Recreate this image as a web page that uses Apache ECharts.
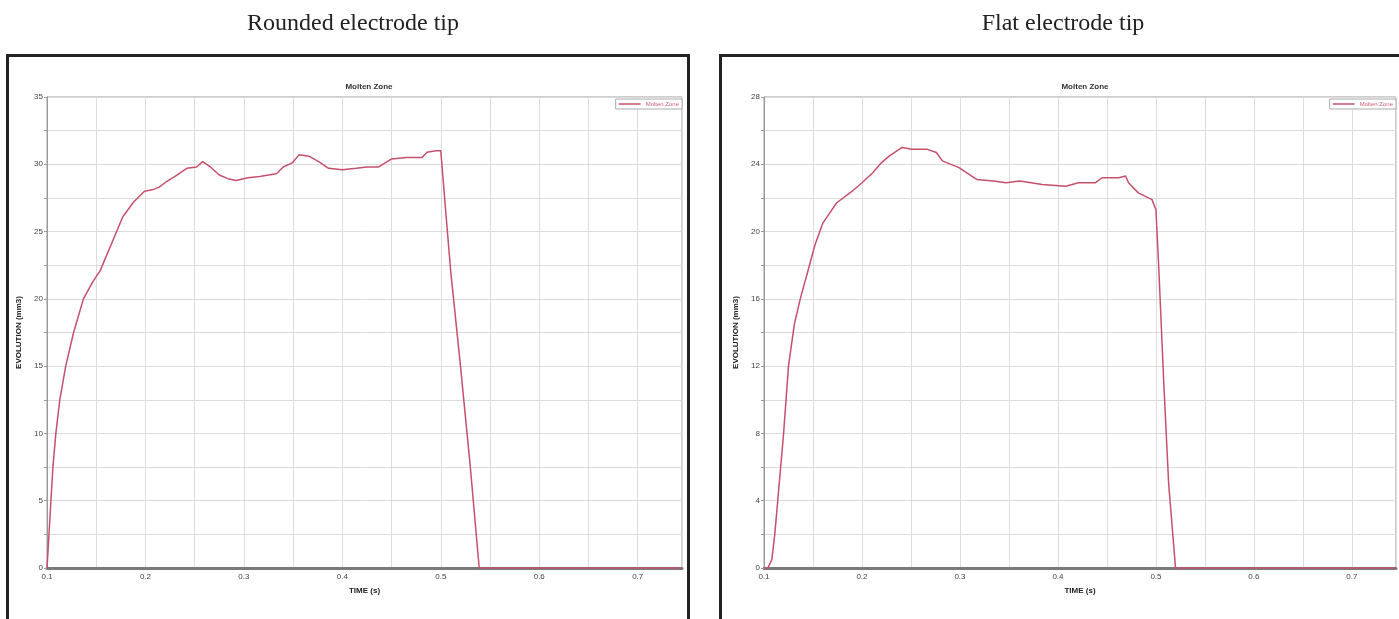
<!DOCTYPE html>
<html>
<head>
<meta charset="utf-8">
<script src="https://cdn.jsdelivr.net/npm/echarts@6/dist/echarts.min.js"></script>
<style>
  html, body { margin: 0; padding: 0; background: #fff; }
  #main { width: 1399px; height: 619px; }
</style>
</head>
<body>
<div id="main"></div>
<script>
// rounded electrode tip - molten zone evolution (mm3) vs time (s)
var roundedTime = [0.1, 0.102, 0.104, 0.106, 0.109, 0.113, 0.119, 0.127, 0.137, 0.146, 0.154, 0.165, 0.177, 0.188, 0.199, 0.207, 0.214, 0.221, 0.23, 0.242, 0.252, 0.258, 0.266, 0.275, 0.285, 0.292, 0.304, 0.316, 0.325, 0.333, 0.34, 0.349, 0.356, 0.366, 0.376, 0.386, 0.4, 0.414, 0.425, 0.437, 0.45, 0.465, 0.481, 0.486, 0.495, 0.5, 0.505, 0.51, 0.52, 0.53, 0.539, 0.6, 0.7, 0.745];
var roundedValues = [0, 2.5, 5, 7.5, 10, 12.5, 15, 17.5, 20, 21.2, 22.1, 24, 26.1, 27.2, 28, 28.1, 28.3, 28.7, 29.1, 29.7, 29.8, 30.2, 29.8, 29.2, 28.9, 28.8, 29, 29.1, 29.2, 29.3, 29.8, 30.1, 30.7, 30.6, 30.2, 29.7, 29.6, 29.7, 29.8, 29.8, 30.4, 30.5, 30.5, 30.9, 31, 31, 26.5, 22.1, 15, 7.5, 0, 0, 0, 0];

// flat electrode tip
var flatTime = [0.1, 0.104, 0.108, 0.111, 0.114, 0.117, 0.12, 0.125, 0.131, 0.137, 0.145, 0.152, 0.16, 0.167, 0.174, 0.19, 0.2, 0.211, 0.22, 0.228, 0.241, 0.251, 0.266, 0.276, 0.282, 0.299, 0.317, 0.334, 0.347, 0.361, 0.384, 0.408, 0.421, 0.438, 0.445, 0.462, 0.469, 0.472, 0.482, 0.496, 0.5, 0.503, 0.508, 0.513, 0.52, 0.6, 0.7, 0.745];
var flatValues = [0, 0, 0.5, 2, 4, 6, 8, 12, 14.5, 16, 17.7, 19.2, 20.5, 21.1, 21.7, 22.4, 22.9, 23.5, 24.1, 24.5, 25, 24.9, 24.9, 24.7, 24.2, 23.8, 23.1, 23, 22.9, 23, 22.8, 22.7, 22.9, 22.9, 23.2, 23.2, 23.3, 22.9, 22.3, 21.9, 21.3, 17.7, 11, 5, 0, 0, 0, 0];

var xTicks = [0.1, 0.2, 0.3, 0.4, 0.5, 0.6, 0.7];

function pairs(xs, ys) {
    var out = [];
    for (var i = 0; i < xs.length; i++) out.push([xs[i], ys[i]]);
    return out;
}

var lineColor = '#c6506b';
var sans = '"Liberation Sans", Arial, sans-serif';
var serif = '"Liberation Serif", "DejaVu Serif", serif';

function xFormatter(v) {
    var k = Math.round(v * 100);
    if (k % 10 !== 0) return '';
    return xTicks.indexOf(k / 100) >= 0 ? (k / 100).toFixed(1) : '';
}

function makeX(gridIndex) {
    return {
        type: 'value', gridIndex: gridIndex,
        min: 0.1, max: 0.745, interval: 0.05,
        name: 'TIME (s)', nameLocation: 'middle', nameGap: 19,
        nameTextStyle: { fontFamily: sans, fontSize: 8, fontWeight: 'bold', color: '#222' },
        axisLine: { show: true, lineStyle: { color: '#7a7a7a', width: 3 } },
        axisTick: { show: false },
        axisLabel: { formatter: xFormatter, fontFamily: sans, fontSize: 8, color: '#444', margin: 5, showMaxLabel: false },
        splitLine: { show: true, lineStyle: { color: '#dcdcdc', width: 1 } }
    };
}

function makeY(gridIndex, max, step) {
    return {
        type: 'value', gridIndex: gridIndex,
        min: 0, max: max, interval: step / 2,
        name: 'EVOLUTION (mm3)', nameLocation: 'middle', nameGap: 24,
        nameTextStyle: { fontFamily: sans, fontSize: 8, fontWeight: 'bold', color: '#222' },
        axisLine: { show: true, lineStyle: { color: '#9a9a9a', width: 1 } },
        axisTick: { show: true, length: 3, lineStyle: { color: '#9a9a9a' } },
        axisLabel: {
            fontFamily: sans, fontSize: 8, color: '#444', margin: 4,
            formatter: function (v) { return v % step === 0 ? String(v) : ''; }
        },
        splitLine: { show: true, lineStyle: { color: '#dcdcdc', width: 1 } }
    };
}

function makeLegend(right) {
    return {
        right: right, top: 99, orient: 'horizontal',
        data: ['Molten Zone'],
        icon: 'rect', itemWidth: 22, itemHeight: 1.5, itemGap: 2,
        padding: [2, 3], borderColor: '#aaa', borderWidth: 1, backgroundColor: '#fff',
        textStyle: { fontFamily: sans, fontSize: 6, color: '#d0607c' }
    };
}

var dom = document.getElementById('main');
var myChart = echarts.init(dom);

var option = {
    animation: false,
    backgroundColor: '#fff',
    title: [
        { text: 'Rounded electrode tip', left: 348, top: 7, textAlign: 'center',
          textStyle: { fontFamily: serif, fontSize: 24, fontWeight: 'normal', color: '#222' } },
        { text: 'Flat electrode tip', left: 1058, top: 7, textAlign: 'center',
          textStyle: { fontFamily: serif, fontSize: 24, fontWeight: 'normal', color: '#222' } },
        { text: 'Molten Zone', left: 364, top: 78, textAlign: 'center',
          textStyle: { fontFamily: sans, fontSize: 8, fontWeight: 'bold', color: '#333' } },
        { text: 'Molten Zone', left: 1080, top: 78, textAlign: 'center',
          textStyle: { fontFamily: sans, fontSize: 8, fontWeight: 'bold', color: '#333' } }
    ],
    legend: [makeLegend(717), makeLegend(3)],
    grid: [
        { left: 47, top: 97, width: 635, height: 471, show: true, borderColor: '#9a9a9a', borderWidth: 1 },
        { left: 764, top: 97, width: 632, height: 471, show: true, borderColor: '#9a9a9a', borderWidth: 1 }
    ],
    xAxis: [makeX(0), makeX(1)],
    yAxis: [makeY(0, 35, 5), makeY(1, 28, 4)],
    series: [
        {
            name: 'Molten Zone', type: 'line', xAxisIndex: 0, yAxisIndex: 0,
            data: pairs(roundedTime, roundedValues),
            showSymbol: false, smooth: false,
            lineStyle: { color: lineColor, width: 1.5 }, itemStyle: { color: lineColor }
        },
        {
            name: 'Molten Zone', type: 'line', xAxisIndex: 1, yAxisIndex: 1,
            data: pairs(flatTime, flatValues),
            showSymbol: false, smooth: false,
            lineStyle: { color: lineColor, width: 1.5 }, itemStyle: { color: lineColor }
        }
    ],
    graphic: [
        { type: 'rect', shape: { x: 7.5, y: 55.5, width: 681, height: 600 },
          style: { fill: 'none', stroke: '#222', lineWidth: 3 }, z: 100 },
        { type: 'rect', shape: { x: 720.5, y: 55.5, width: 700, height: 600 },
          style: { fill: 'none', stroke: '#222', lineWidth: 3 }, z: 100 }
    ]
};

myChart.setOption(option, true);
</script>
</body>
</html>
